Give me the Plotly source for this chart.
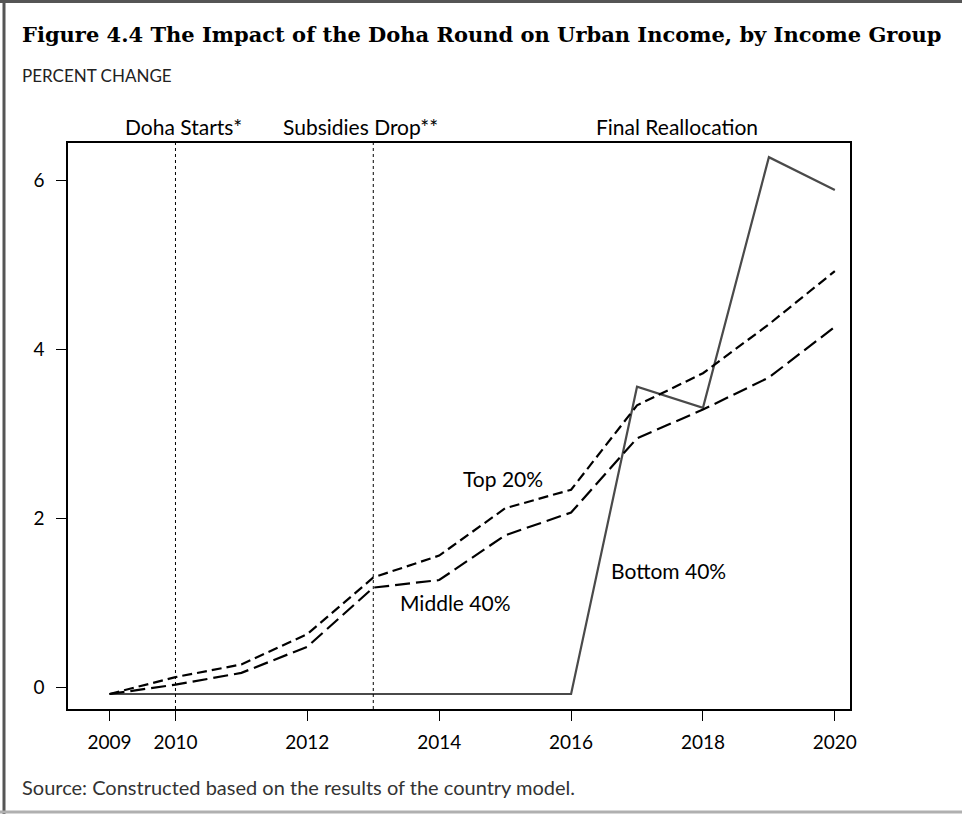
import plotly.graph_objects as go

years = [2009, 2010, 2011, 2012, 2013, 2014, 2015, 2016, 2017, 2018, 2019, 2020]
top20 = [-0.08, 0.12, 0.27, 0.63, 1.30, 1.56, 2.12, 2.34, 3.34, 3.72, 4.30, 4.93]
middle40 = [-0.08, 0.03, 0.17, 0.48, 1.18, 1.27, 1.80, 2.07, 2.95, 3.29, 3.67, 4.27]
bottom40 = [-0.08, -0.08, -0.08, -0.08, -0.08, -0.08, -0.08, -0.08, 3.56, 3.31, 6.28, 5.89]

x_ticks = [2009, 2010, 2012, 2014, 2016, 2018, 2020]
y_ticks = [0, 2, 4, 6]
event_years = [2010, 2013]
event_labels = ["Doha Starts*", "Subsidies Drop**", "Final Reallocation"]
event_label_x = [2010.12, 2012.8, 2017.6]

W, H = 962, 814
L, R, T, B = 68, 850, 143, 709
FONT = "Lato"

def px(x):
    return (x - L) / (R - L)

def py(y):
    return (B - y) / (B - T)

fig = go.Figure()
fig.add_trace(go.Scatter(x=years, y=bottom40, mode="lines", name="Bottom 40%",
                         line=dict(color="#4a4a4a", width=2.2)))
fig.add_trace(go.Scatter(x=years, y=middle40, mode="lines", name="Middle 40%",
                         line=dict(color="black", width=2.2, dash="15px,6px")))
fig.add_trace(go.Scatter(x=years, y=top20, mode="lines", name="Top 20%",
                         line=dict(color="black", width=2.2, dash="10px,5px")))

shapes = []
for ey in event_years:
    shapes.append(dict(type="line", xref="x", yref="paper", x0=ey, x1=ey, y0=0, y1=1,
                       line=dict(color="black", width=1, dash="dot")))
# outer frame
shapes.append(dict(type="line", xref="paper", yref="paper", x0=px(4), x1=px(4), y0=py(0), y1=py(814),
                   line=dict(color="#555555", width=3)))
shapes.append(dict(type="line", xref="paper", yref="paper", x0=px(0), x1=px(962), y0=py(1.5), y1=py(1.5),
                   line=dict(color="#555555", width=3)))
shapes.append(dict(type="line", xref="paper", yref="paper", x0=px(0), x1=px(962), y0=py(812), y1=py(812),
                   line=dict(color="#b0b0b0", width=3)))

annotations = []
for lx, lt in zip(event_label_x, event_labels):
    annotations.append(dict(x=lx, xref="x", y=py(126), yref="paper", text=lt, showarrow=False,
                            font=dict(family=FONT, size=21, color="black"), xanchor="center", yanchor="middle"))
annotations += [
    dict(x=2014.97, y=2.47, text="Top 20%", showarrow=False, font=dict(family=FONT, size=21, color="black")),
    dict(x=2014.24, y=1.0, text="Middle 40%", showarrow=False, font=dict(family=FONT, size=21, color="black")),
    dict(x=2017.47, y=1.38, text="Bottom 40%", showarrow=False, font=dict(family=FONT, size=21, color="black")),
    dict(x=px(20), y=py(35), xref="paper", yref="paper", xanchor="left", yanchor="middle", showarrow=False,
         text="<b>Figure 4.4 The Impact of the Doha Round on Urban Income, by Income Group</b>",
         font=dict(family="DejaVu Serif", size=21, color="black")),
    dict(x=px(20), y=py(75), xref="paper", yref="paper", xanchor="left", yanchor="middle", showarrow=False,
         text="PERCENT CHANGE", font=dict(family=FONT, size=17, color="#222222")),
    dict(x=px(20), y=py(787), xref="paper", yref="paper", xanchor="left", yanchor="middle", showarrow=False,
         text="Source: Constructed based on the results of the country model.",
         font=dict(family=FONT, size=20, color="#333333")),
]

fig.update_layout(
    width=W, height=H,
    margin=dict(l=L, r=W - R, t=T, b=H - B, pad=0),
    plot_bgcolor="white", paper_bgcolor="white",
    showlegend=False,
    shapes=shapes, annotations=annotations,
    xaxis=dict(range=[2008.37, 2020.23], tickvals=x_ticks, ticktext=[str(v) for v in x_ticks],
               showgrid=False, zeroline=False, showline=True, linecolor="black", linewidth=1.5, mirror=True,
               ticks="outside", ticklen=10, tickcolor="black", tickwidth=1.2, ticklabelstandoff=5,
               tickfont=dict(family=FONT, size=19, color="black")),
    yaxis=dict(range=[-0.258, 6.448], tickvals=y_ticks, showgrid=False, zeroline=False,
               showline=True, linecolor="black", linewidth=1.5, mirror=True,
               ticks="outside", ticklen=10, tickcolor="black", tickwidth=1.2, ticklabelstandoff=8,
               tickfont=dict(family=FONT, size=19, color="black")),
)

fig.write_html("out.html", config={"displayModeBar": False},
               post_script="document.body.style.margin='0px';")
